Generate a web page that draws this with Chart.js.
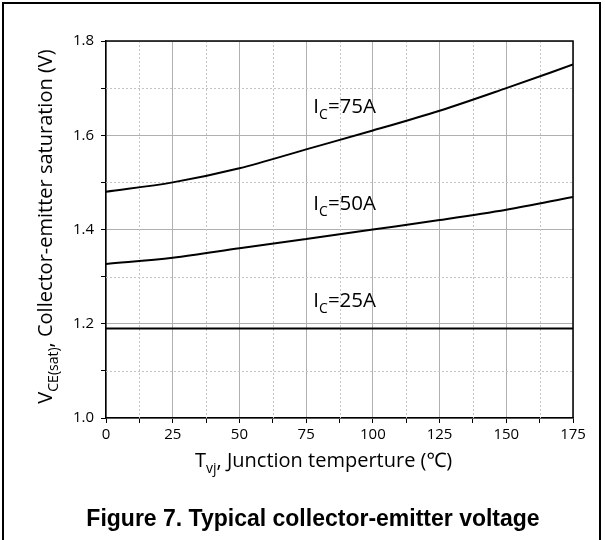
<!DOCTYPE html>
<html>
<head>
<meta charset="utf-8">
<script src="https://cdn.jsdelivr.net/npm/chart.js@4.4.1/dist/chart.umd.min.js"></script>
<style>
  html, body { margin: 0; padding: 0; background: #fff; }
  #wrap { position: relative; width: 605px; height: 540px; overflow: hidden; }
  #frame { position: absolute; left: 2px; top: 2px; width: 599px; height: 560px; border: 2px solid #000; box-sizing: border-box; pointer-events: none; }
</style>
</head>
<body>
<div id="wrap">
  <canvas id="chart" width="605" height="540"></canvas>
  <div id="frame"></div>
</div>
<script>
// junction temperature (degC) and Vce(sat) for each collector current
const temps = [0, 25, 50, 75, 100, 125, 150, 175]
const vce75 = [1.48, 1.50, 1.53, 1.57, 1.61, 1.652, 1.70, 1.75]
const vce50 = [1.327, 1.34, 1.36, 1.38, 1.40, 1.42, 1.442, 1.469]
const vce25 = [1.19, 1.19, 1.19, 1.19, 1.19, 1.19, 1.19, 1.19]
const xTicks = [0, 25, 50, 75, 100, 125, 150, 175]
const yTicks = [1.0, 1.2, 1.4, 1.6, 1.8]
const xMinor = [12.5, 37.5, 62.5, 87.5, 112.5, 137.5, 162.5]
const yMinor = [1.1, 1.3, 1.5, 1.7]
const curveNames = ['75A', '50A', '25A']

const FONT = '"Open Sans", "Noto Sans", sans-serif'

// where the curve labels sit (data coords: left edge, baseline)
const labelAt = [[77.7, 1.647], [77.7, 1.441], [77.7, 1.2355]]

function pts(ys) {
    return temps.map((t, i) => ({ x: t, y: ys[i] }))
}

// draw text made of normal + subscript parts
function drawRich(ctx, parts, x, y, size) {
    let cx = x
    parts.forEach(p => {
        const s = p.sub ? Math.round(size * 0.68) : size
        ctx.font = s + 'px ' + FONT
        ctx.fillText(p.t, cx, p.sub ? y + size * 0.3 : y)
        cx += ctx.measureText(p.t).width
    })
    return cx - x
}

function richWidth(ctx, parts, size) {
    let w = 0
    parts.forEach(p => {
        const s = p.sub ? Math.round(size * 0.68) : size
        ctx.font = s + 'px ' + FONT
        w += ctx.measureText(p.t).width
    })
    return w
}

const decorations = {
    id: 'decorations',
    beforeDatasetsDraw(chart) {
        const { ctx, chartArea: a, scales: { x, y } } = chart
        ctx.save()
        ctx.strokeStyle = '#c4c4c4'
        ctx.lineWidth = 1
        ctx.setLineDash([2, 2])
        xMinor.forEach(v => {
            const px = Math.round(x.getPixelForValue(v)) + 0.5
            ctx.beginPath(); ctx.moveTo(px, a.top); ctx.lineTo(px, a.bottom); ctx.stroke()
        })
        yMinor.forEach(v => {
            const py = Math.round(y.getPixelForValue(v)) + 0.5
            ctx.beginPath(); ctx.moveTo(a.left, py); ctx.lineTo(a.right, py); ctx.stroke()
        })
        ctx.restore()
    },
    afterDraw(chart) {
        const { ctx, chartArea: a, scales: { x, y } } = chart
        ctx.save()
        // top / right border of plot box
        ctx.strokeStyle = '#000'
        ctx.lineWidth = 1.5
        ctx.beginPath()
        ctx.moveTo(a.left, a.top); ctx.lineTo(a.right, a.top); ctx.lineTo(a.right, a.bottom)
        ctx.stroke()

        ctx.fillStyle = '#000'
        ctx.textBaseline = 'alphabetic'
        ctx.textAlign = 'left'

        // curve labels
        curveNames.forEach((n, i) => {
            const px = x.getPixelForValue(labelAt[i][0])
            const py = y.getPixelForValue(labelAt[i][1])
            drawRich(ctx, [{ t: 'I' }, { t: 'C', sub: true }, { t: '=' + n }], px, py, 20.5)
        })

        // x axis title
        const xt = [{ t: 'T' }, { t: 'vj', sub: true }, { t: ', Junction temperture (℃)' }]
        drawRich(ctx, xt, 195, 467, 20)

        // y axis title
        const yt = [{ t: 'V' }, { t: 'CE(sat)', sub: true }, { t: ', Collector-emitter saturation (V)' }]
        const w = richWidth(ctx, yt, 20)
        ctx.translate(52, (a.top + a.bottom) / 2 - 3)
        ctx.rotate(-Math.PI / 2)
        drawRich(ctx, yt, -w / 2, 0, 20)
        ctx.setTransform(1, 0, 0, 1, 0, 0)

        // caption
        ctx.font = 'bold 23px "Liberation Sans", Arial, sans-serif'
        ctx.textAlign = 'center'
        ctx.fillText('Figure 7. Typical collector-emitter voltage', 313, 526)
        ctx.restore()
    }
}

const line = (data) => ({
    data: pts(data),
    borderColor: '#000',
    borderWidth: 2,
    pointRadius: 0,
    fill: false,
    tension: 0.4,
    cubicInterpolationMode: 'monotone'
})

new Chart(document.getElementById('chart'), {
    type: 'line',
    data: {
        datasets: [line(vce75), line(vce50), line(vce25)]
    },
    options: {
        responsive: false,
        animation: false,
        events: [],
        layout: { padding: { left: 0, right: 32, top: 41, bottom: 0 } },
        plugins: { legend: { display: false }, tooltip: { enabled: false } },
        scales: {
            x: {
                type: 'linear',
                min: 0,
                max: 175,
                afterBuildTicks: s => { s.ticks = xTicks.concat(xMinor).sort((a, b) => a - b).map(v => ({ value: v })) },
                ticks: {
                    autoSkip: false,
                    maxRotation: 0,
                    padding: 3,
                    color: '#000',
                    font: { family: FONT, size: 15 },
                    callback: v => xTicks.includes(v) ? String(v) : ''
                },
                grid: {
                    color: c => (c.tick && xTicks.includes(c.tick.value)) ? '#b0b0b0' : 'rgba(0,0,0,0)',
                    tickColor: '#000',
                    tickLength: 5,
                    lineWidth: 1
                },
                border: { color: '#000', width: 1.5 },
                afterFit: s => { s.height = 122 }
            },
            y: {
                min: 1.0,
                max: 1.8,
                afterBuildTicks: s => { s.ticks = yTicks.concat(yMinor).sort((a, b) => a - b).map(v => ({ value: v })) },
                ticks: {
                    autoSkip: false,
                    padding: 7,
                    color: '#000',
                    font: { family: FONT, size: 15 },
                    callback: v => yTicks.some(t => Math.abs(t - v) < 1e-6) ? v.toFixed(1) : ''
                },
                grid: {
                    color: c => (c.tick && yTicks.some(t => Math.abs(t - c.tick.value) < 1e-6)) ? '#b0b0b0' : 'rgba(0,0,0,0)',
                    tickColor: '#000',
                    tickLength: 5,
                    lineWidth: 1
                },
                border: { color: '#000', width: 1.5 },
                afterFit: s => { s.width = 106 }
            }
        }
    },
    plugins: [decorations]
})
</script>
</body>
</html>
